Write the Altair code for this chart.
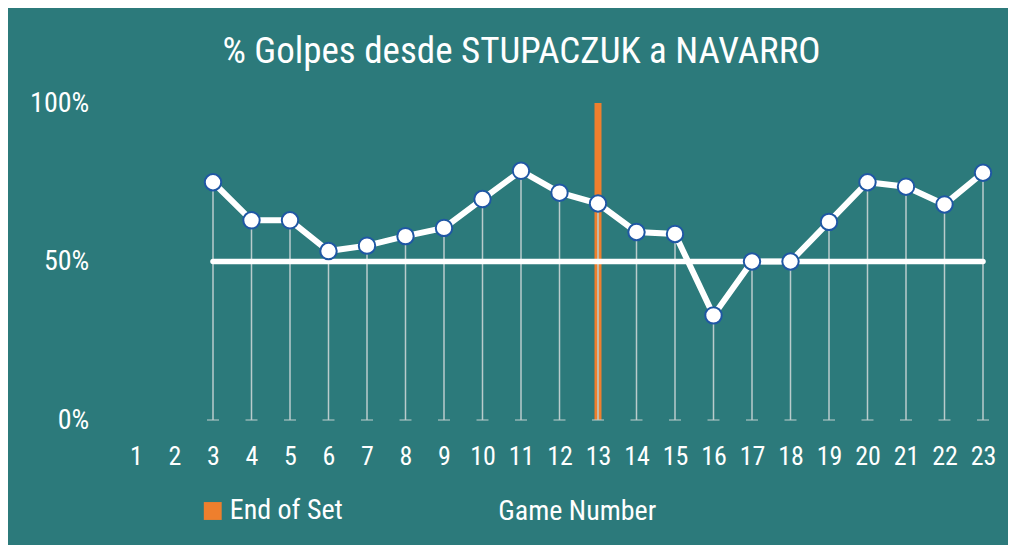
import altair as alt
import pandas as pd

# ---- data ----
games = list(range(3, 24))
pct = [75, 63, 63, 53.3, 55, 58, 60.6, 69.7, 78.6, 71.7, 68.3, 59.3, 58.7,
       33, 50, 50, 62.5, 75, 73.6, 68, 78]
tick_games = list(range(1, 24))
set_end_game = [13]
ref_start = [3]
ref_end = [23]
ref_level = [50]

FONT = "Roboto Condensed, Liberation Sans Narrow, Arial Narrow, DejaVu Sans Condensed, sans-serif"
BG = "#2C7A7B"
ORANGE = "#EE7F2D"

df = pd.DataFrame({"game": games, "pct": pct, "zero": [0] * len(games)})
df_ref = pd.DataFrame({"x1": ref_start, "x2": ref_end, "y": ref_level})
df_set = pd.DataFrame({"game": set_end_game, "lo": [0], "hi": [100], "label": ["End of Set"]})

xscale = alt.Scale(domain=[0.5, 23.5], nice=False, zero=False, padding=0)
yscale = alt.Scale(domain=[0, 100], nice=False, padding=0)

x_axis = alt.Axis(values=tick_games, title="Game Number", grid=False, ticks=False,
                  domain=False, labelFont=FONT, labelFontSize=26, labelColor="white",
                  labelPadding=44, labelBaseline="alphabetic", labelFlush=False,
                  titleFont=FONT, titleFontSize=28, titleColor="white",
                  titleFontWeight="normal", titleX=460, titleY=99,
                  titleAlign="center", titleBaseline="alphabetic")
y_axis = alt.Axis(values=[0, 50, 100], labelExpr="datum.value + '%'", title=None,
                  grid=False, ticks=False, domain=False, labelFont=FONT,
                  labelFontSize=28, labelColor="white", labelPadding=28,
                  labelBaseline="middle")

set_bar = alt.Chart(df_set).mark_bar(size=7).encode(
    x=alt.X("game:Q", scale=xscale, axis=x_axis),
    y=alt.Y("lo:Q", scale=yscale, axis=y_axis),
    y2="hi:Q",
    color=alt.Color("label:N",
                    scale=alt.Scale(domain=["End of Set"], range=[ORANGE]),
                    legend=alt.Legend(orient="none", legendX=82, legendY=394,
                                      title=None, symbolType="square",
                                      symbolSize=320, symbolStrokeWidth=0,
                                      labelFont=FONT, labelFontSize=28,
                                      labelColor="white", padding=0,
                                      labelOffset=3)),
)

drops = alt.Chart(df).mark_rule(color="#BACCCC", strokeWidth=1.5).encode(
    x=alt.X("game:Q", scale=xscale),
    y=alt.Y("zero:Q", scale=yscale),
    y2="pct:Q",
)

caps = alt.Chart(df).mark_tick(orient="horizontal", size=12, thickness=1.5,
                               color="#BACCCC").encode(
    x=alt.X("game:Q", scale=xscale),
    y=alt.Y("zero:Q", scale=yscale),
)

ref_line = alt.Chart(df_ref).mark_rule(color="white", strokeWidth=5.5,
                                       strokeCap="round").encode(
    x=alt.X("x1:Q", scale=xscale),
    x2="x2:Q",
    y=alt.Y("y:Q", scale=yscale),
)

line = alt.Chart(df).mark_line(color="white", strokeWidth=6).encode(
    x=alt.X("game:Q", scale=xscale),
    y=alt.Y("pct:Q", scale=yscale),
)

points = alt.Chart(df).mark_point(filled=False, fill="white", fillOpacity=1,
                                  stroke="#1F57A4", strokeWidth=2, size=270,
                                  opacity=1, shape="circle").encode(
    x=alt.X("game:Q", scale=xscale),
    y=alt.Y("pct:Q", scale=yscale),
)

chart = alt.layer(set_bar, drops, caps, ref_line, line, points).properties(
    width=885.5,
    height=317,
    autosize=alt.AutoSizeParams(type="none"),
    padding={"left": 108.75, "top": 95, "right": 5.75, "bottom": 125},
    background=BG,
    title=alt.TitleParams("% Golpes desde STUPACZUK a NAVARRO", font=FONT,
                          fontSize=37, fontWeight="normal", color="white",
                          anchor="middle", dx=-38, offset=18),
).configure_view(stroke=None)

chart.save("out.html", embed_options={"renderer": "svg", "actions": False})
